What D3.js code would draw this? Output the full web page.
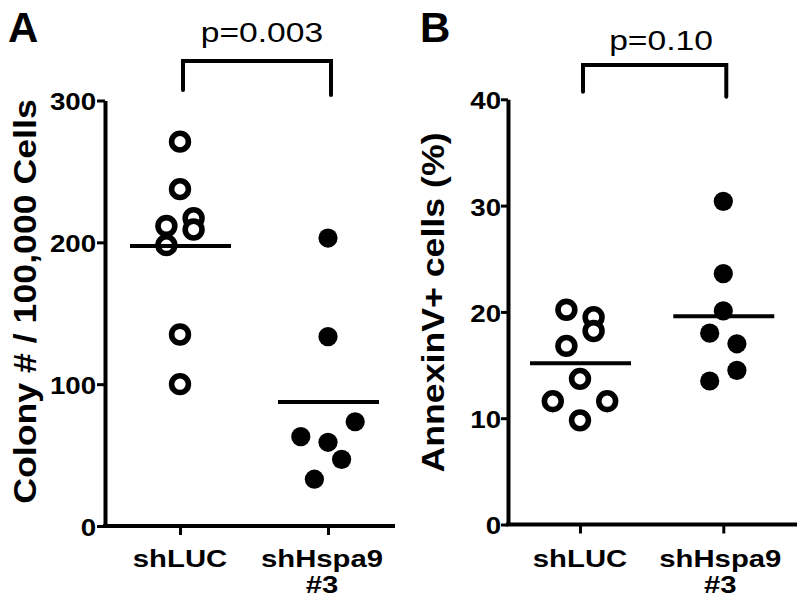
<!DOCTYPE html>
<html><head><meta charset="utf-8">
<script src="https://cdn.jsdelivr.net/npm/d3@7"></script>
<style>
body{margin:0;background:#fff}
text{font-family:Arial,"Liberation Sans",sans-serif;fill:#000}
</style>
</head><body>
<svg id="chart" width="800" height="613"></svg>
<script>
// ---------- data ----------
const categories = ["shLUC", "shHspa9 #3"];
const categoryLines = [["shLUC"], ["shHspa9", "#3"]];

// Panel A: colony number per 100,000 cells
const colonyShLUC = [271, 237.5, 217, 209, 211.5, 198, 135, 100];
const colonyShLUCSlot = [0, 0, 1, 1, -1, -1, 0, 0];
const colonyShHspa9 = [203, 133.5, 73.5, 63, 59, 47, 33];
const colonyShHspa9Slot = [0, 0, 2, -2, 0, 1, -1];
const colonyTicks = [0, 100, 200, 300];

// Panel B: AnnexinV+ cells (%)
const annexinShLUC = [20.2, 19.5, 18.2, 16.8, 13.7, 11.6, 11.6, 9.8];
const annexinShLUCSlot = [-1, 1, 1, -1, 0, -2, 2, 0];
const annexinShHspa9 = [30.4, 23.6, 20.1, 18.0, 17.0, 14.5, 13.5];
const annexinShHspa9Slot = [0, 0, 0, -1, 1, 1, -1];
const annexinTicks = [0, 10, 20, 30, 40];

const panelLabels = ["A", "B"];
const yTitles = ["Colony # / 100,000 Cells", "AnnexinV+ cells (%)"];
const pValues = ["p=0.003", "p=0.10"];

// ---------- layout ----------
const panels = [
  {label: panelLabels[0], title: yTitles[0], p: pValues[0], ticks: colonyTicks,
   series: [[colonyShLUC, colonyShLUCSlot, false], [colonyShHspa9, colonyShHspa9Slot, true]],
   axisX: 105, axisRight: 395, yTop: 100.5, yBottom: 526, xRange: [180, 328],
   tickLen: 8, labelGap: 9, titleX: 36, titleY: 301.5, labelX: 8, secondShift: -6,
   bracketY: 61, legEnds: [90, 95], pX: 262, pY: 42},
  {label: panelLabels[1], title: yTitles[1], p: pValues[1], ticks: annexinTicks,
   series: [[annexinShLUC, annexinShLUCSlot, false], [annexinShHspa9, annexinShHspa9Slot, true]],
   axisX: 508, axisRight: 797, yTop: 99.3, yBottom: 524.5, xRange: [580, 723.3],
   tickLen: 7, labelGap: 7, titleX: 444, titleY: 302.5, labelX: 420, secondShift: -3,
   bracketY: 65, legEnds: [91.7, 96.7], pX: 661, pY: 50}
];

const svg = d3.select("#chart");
const SX = 1.2;      // horizontal widening of the original lettering
const slotW = 13.6;  // scatter column spacing

panels.forEach(P => {
  const g = svg.append("g");
  const y = d3.scaleLinear().domain(d3.extent(P.ticks)).range([P.yBottom, P.yTop]);
  const x = d3.scalePoint().domain(categories).range(P.xRange);

  // y axis
  const ya = g.append("g").attr("transform", `translate(${P.axisX},0)`)
    .call(d3.axisLeft(y).tickValues(P.ticks).tickSize(P.tickLen).tickSizeOuter(0).tickPadding(0));
  ya.select(".domain").attr("stroke", "#000").attr("stroke-width", 4);
  ya.selectAll(".tick line").attr("stroke", "#000").attr("stroke-width", 3);
  ya.selectAll(".tick text")
    .attr("x", -P.labelGap / SX).attr("dy", "0.40em")
    .attr("transform", `scale(${SX - 0.02},1)`)
    .style("font-size", "23.5px").style("font-weight", "bold")
    .style("font-family", "Arial, 'Liberation Sans', sans-serif").attr("fill", "#000");

  // x axis line
  g.append("line").attr("x1", P.axisX - 2).attr("x2", P.axisRight)
    .attr("y1", P.yBottom).attr("y2", P.yBottom)
    .attr("stroke", "#000").attr("stroke-width", 4);
  const xa = g.append("g").attr("transform", `translate(0,${P.yBottom})`)
    .call(d3.axisBottom(x).tickSize(9).tickFormat(""));
  xa.select(".domain").remove();
  xa.selectAll(".tick line").attr("stroke", "#000").attr("stroke-width", 3);

  // x category labels (one text element per category, lines as tspans)
  categories.forEach((c, i) => {
    const t = g.append("text")
      .attr("transform", `translate(${x(c) + (i === 1 ? P.secondShift : 0)},567) scale(${SX + 0.02},1)`)
      .attr("text-anchor", "middle")
      .style("font-size", "24px").style("font-weight", "bold");
    categoryLines[i].forEach((ln, k) => {
      t.append("tspan").attr("x", 0).attr("y", k * 26.5).text(ln);
    });
  });

  // y title
  g.append("text")
    .attr("transform", `translate(${P.titleX},${P.titleY}) rotate(-90) scale(1.17,1)`)
    .attr("text-anchor", "middle")
    .style("font-size", "30.5px").style("font-weight", "bold")
    .text(P.title);

  // panel label
  g.append("text").attr("x", P.labelX).attr("y", 42)
    .style("font-size", "42px").style("font-weight", "bold").text(P.label);

  // points and mean lines
  P.series.forEach(([vals, slots, filled], i) => {
    const cx = x(categories[i]);
    g.selectAll(null).data(vals).enter().append("circle")
      .attr("cx", (d, j) => cx + slots[j] * slotW)
      .attr("cy", d => y(d))
      .attr("r", filled ? 9.6 : 8.4)
      .attr("fill", filled ? "#000" : "#fff")
      .attr("stroke", "#000")
      .attr("stroke-width", filled ? 0 : 5.6);
    const m = d3.mean(vals);
    g.append("line").attr("x1", cx - 50).attr("x2", cx + 51)
      .attr("y1", y(m)).attr("y2", y(m))
      .attr("stroke", "#000").attr("stroke-width", 4);
  });

  // significance bracket
  const bx1 = x(categories[0]) + 3, bx2 = x(categories[1]) + 3;
  g.append("path")
    .attr("d", `M${bx1},${P.legEnds[0]}V${P.bracketY}H${bx2}V${P.legEnds[1]}`)
    .attr("fill", "none").attr("stroke", "#000").attr("stroke-width", 4)
    .attr("stroke-linecap", "round").attr("stroke-linejoin", "miter");
  g.append("text")
    .attr("transform", `translate(${P.pX},${P.pY}) scale(${SX},1)`)
    .attr("text-anchor", "middle")
    .style("font-size", "28px")
    .text(P.p);
});
</script>
</body></html>
